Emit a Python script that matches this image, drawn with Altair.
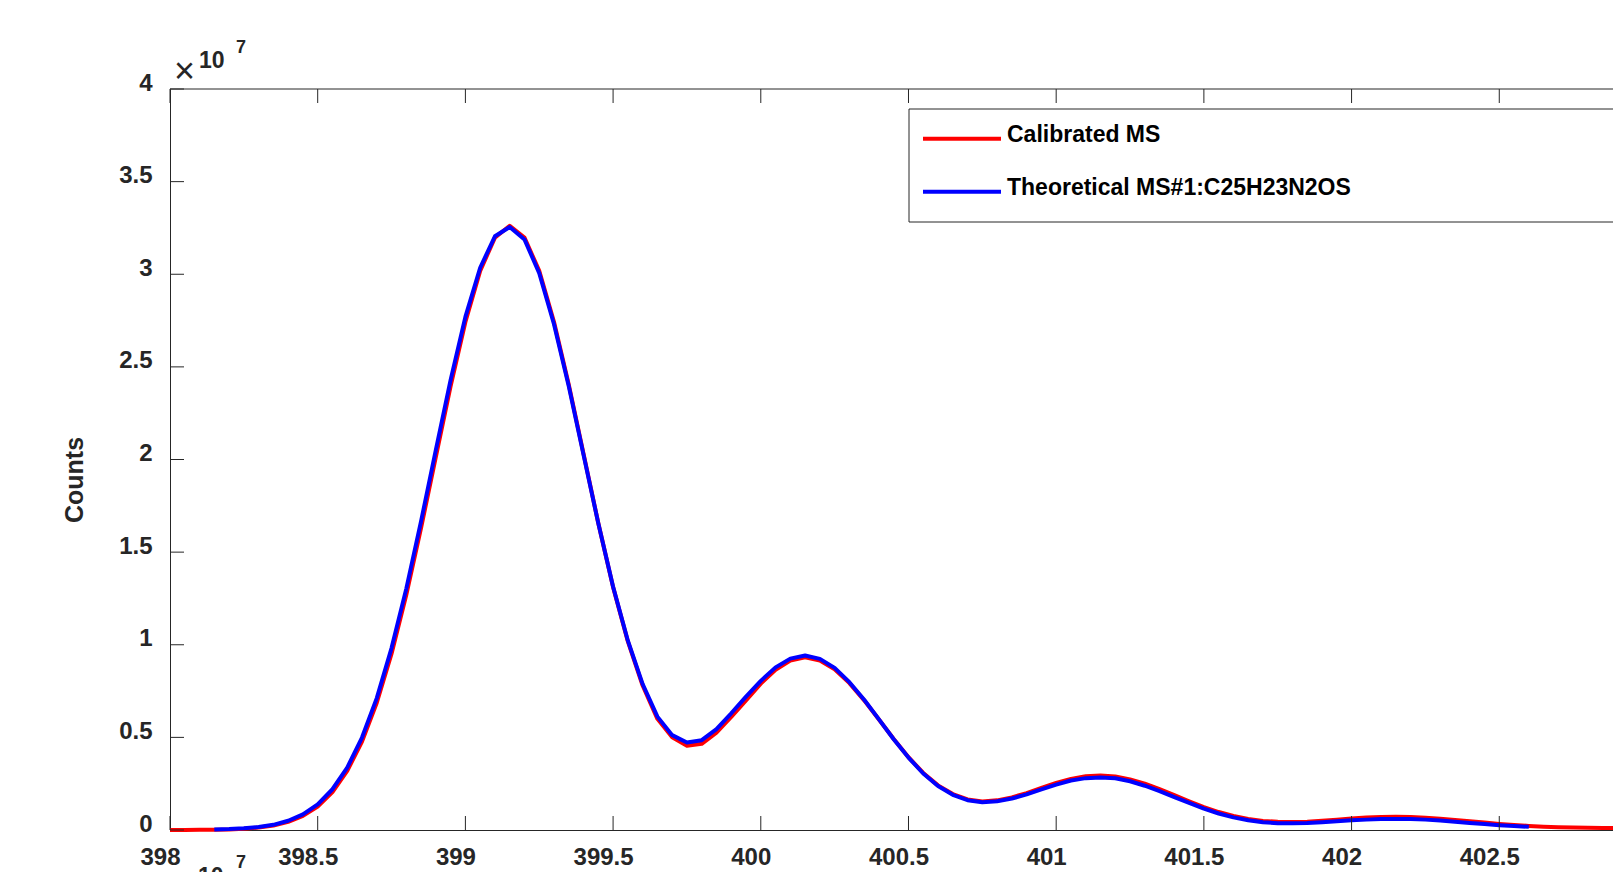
import altair as alt
import pandas as pd

# ---- data (counts in units of 1e7) ----
mz = [398.00, 398.05, 398.10, 398.15, 398.20, 398.25, 398.30, 398.35, 398.40, 398.45,
      398.50, 398.55, 398.60, 398.65, 398.70, 398.75, 398.80, 398.85, 398.90, 398.95,
      399.00, 399.05, 399.10, 399.15, 399.20, 399.25, 399.30, 399.35, 399.40, 399.45,
      399.50, 399.55, 399.60, 399.65, 399.70, 399.75, 399.80, 399.85, 399.90, 399.95,
      400.00, 400.05, 400.10, 400.15, 400.20, 400.25, 400.30, 400.35, 400.40, 400.45,
      400.50, 400.55, 400.60, 400.65, 400.70, 400.75, 400.80, 400.85, 400.90, 400.95,
      401.00, 401.05, 401.10, 401.15, 401.20, 401.25, 401.30, 401.35, 401.40, 401.45,
      401.50, 401.55, 401.60, 401.65, 401.70, 401.75, 401.80, 401.85, 401.90, 401.95,
      402.00, 402.05, 402.10, 402.15, 402.20, 402.25, 402.30, 402.35, 402.40, 402.45,
      402.50, 402.55, 402.60, 402.65, 402.70, 402.75, 402.80, 402.85, 402.90]

calibrated = [0.000, 0.000, 0.001, 0.002, 0.003, 0.007, 0.013, 0.024, 0.044, 0.076,
              0.127, 0.205, 0.319, 0.477, 0.687, 0.952, 1.270, 1.631, 2.015, 2.396,
              2.742, 3.018, 3.198, 3.262, 3.198, 3.018, 2.742, 2.404, 2.030, 1.656,
              1.311, 1.018, 0.780, 0.600, 0.500, 0.455, 0.465, 0.525, 0.610, 0.700,
              0.790, 0.865, 0.915, 0.932, 0.915, 0.868, 0.793, 0.700, 0.596, 0.491,
              0.393, 0.308, 0.241, 0.194, 0.165, 0.154, 0.160, 0.176, 0.199, 0.227,
              0.254, 0.276, 0.290, 0.294, 0.289, 0.273, 0.250, 0.220, 0.188, 0.155,
              0.124, 0.097, 0.076, 0.060, 0.049, 0.044, 0.043, 0.045, 0.050, 0.056,
              0.062, 0.067, 0.070, 0.071, 0.070, 0.066, 0.061, 0.054, 0.047, 0.040,
              0.033, 0.027, 0.022, 0.018, 0.015, 0.013, 0.012, 0.011, 0.011]

theoretical_mz = mz[3:93]
theoretical = [0.003, 0.005, 0.009, 0.016, 0.028, 0.050, 0.084,
               0.138, 0.220, 0.337, 0.499, 0.712, 0.982, 1.303, 1.667, 2.052, 2.430,
               2.770, 3.035, 3.205, 3.255, 3.188, 3.006, 2.730, 2.395, 2.025, 1.655,
               1.313, 1.022, 0.788, 0.612, 0.512, 0.472, 0.485, 0.545, 0.630, 0.720,
               0.805, 0.878, 0.925, 0.942, 0.924, 0.875, 0.798, 0.703, 0.597, 0.490,
               0.391, 0.305, 0.237, 0.190, 0.161, 0.150, 0.155, 0.170, 0.192, 0.219,
               0.245, 0.267, 0.280, 0.284, 0.279, 0.263, 0.239, 0.210, 0.178, 0.146,
               0.115, 0.089, 0.068, 0.053, 0.042, 0.037, 0.036, 0.038, 0.042, 0.047,
               0.052, 0.056, 0.059, 0.060, 0.059, 0.056, 0.051, 0.045, 0.038, 0.032,
               0.026, 0.021, 0.017]

series_names = ["Calibrated MS", "Theoretical MS#1:C25H23N2OS"]
series_colors = ["#ff0000", "#0000ff"]
x_ticks = [398, 398.5, 399, 399.5, 400, 400.5, 401, 401.5, 402, 402.5]
y_ticks = [0, 0.5, 1, 1.5, 2, 2.5, 3, 3.5, 4]
y_title = "Counts"
exp_base = "10"
exp_power = "7"

# ---- layout ----
W, H = 1443, 741
FONT = "Liberation Sans"
AX = "#262626"
TL = 14

df = pd.concat([
    pd.DataFrame({"mz": mz, "value": calibrated, "series": series_names[0]}),
    pd.DataFrame({"mz": theoretical_mz, "value": theoretical, "series": series_names[1]}),
])

xscale = alt.Scale(domain=[398, 402.885], nice=False, zero=False)
yscale = alt.Scale(domain=[0, 4], nice=False, zero=False)
color_scale = alt.Scale(domain=series_names, range=series_colors)

xaxis = alt.Axis(values=x_ticks, format="~g", title=None, grid=False, ticks=False, tickSize=0,
                 labelFont=FONT, labelFontSize=24, labelFontWeight="bold", labelColor=AX,
                 labelPadding=34, labelBaseline="alphabetic", labelOffset=-10,
                 labelFlush=False, labelOverlap=False, domainColor=AX, domainWidth=1)
yaxis = alt.Axis(values=y_ticks, format="~g", title=None, grid=False, ticks=False, tickSize=0,
                 labelFont=FONT, labelFontSize=24, labelFontWeight="bold", labelColor=AX,
                 labelPadding=18, labelBaseline="middle", labelAlign="right", labelOffset=-6,
                 labelFlush=False, labelOverlap=False, domainColor=AX, domainWidth=1)

def X():
    return alt.X("mz:Q", scale=xscale, axis=xaxis)

def Y():
    return alt.Y("value:Q", scale=yscale, axis=yaxis)

lines = []
for name in series_names:
    lines.append(
        alt.Chart(df[df.series == name]).mark_line(strokeWidth=4, strokeJoin="round", strokeCap="butt")
        .encode(x=X(), y=Y(), color=alt.Color("series:N", scale=color_scale, legend=None))
    )

xt = pd.DataFrame({"mz": x_ticks})
yt = pd.DataFrame({"value": y_ticks})
one = pd.DataFrame({"a": [0]})

bottom_ticks = alt.Chart(xt).mark_rule(color=AX, strokeWidth=1).encode(
    x=X(), y=alt.value(H), y2=alt.value(H - TL))
top_ticks = alt.Chart(xt).mark_rule(color=AX, strokeWidth=1).encode(
    x=X(), y=alt.value(0), y2=alt.value(TL))
left_ticks = alt.Chart(yt).mark_rule(color=AX, strokeWidth=1).encode(
    y=Y(), x=alt.value(0), x2=alt.value(TL))
top_border = alt.Chart(one).mark_rule(color=AX, strokeWidth=1).encode(
    x=alt.value(0), x2=alt.value(W), y=alt.value(0))

# legend box
legend_box = alt.Chart(one).mark_rect(fill="white", stroke=AX, strokeWidth=1).encode(
    x=alt.value(739), x2=alt.value(W + 40), y=alt.value(20), y2=alt.value(133))
legend_layers = []
for i, (name, col) in enumerate(zip(series_names, series_colors)):
    ly = 49.7 + i * 53.0
    legend_layers.append(alt.Chart(one).mark_rule(color=col, strokeWidth=4).encode(
        x=alt.value(753), x2=alt.value(831), y=alt.value(ly)))
    legend_layers.append(alt.Chart(one).mark_text(
        text=name, font=FONT, fontSize=23, fontWeight="bold", color="#000000",
        align="left", baseline="middle").encode(x=alt.value(837), y=alt.value(ly - 3.8)))

# exponent annotations and y title
def txt(text, x, y, size=24, weight="bold", align="left", baseline="alphabetic", angle=0):
    return alt.Chart(one).mark_text(text=text, font=FONT, fontSize=size, fontWeight=weight,
                                    color=AX, align=align, baseline=baseline, angle=angle
                                    ).encode(x=alt.value(x), y=alt.value(y))

annots = [
    txt("\u00d7", 14.5, -17.5, size=36, weight="normal", align="center", baseline="middle"),
    txt(exp_base, 29, -21, size=23),
    txt(exp_power, 66, -36, size=18),
    txt(exp_base, 28, 795, size=23),
    txt(exp_power, 66, 779, size=18),
    txt(y_title, -87, 391, size=25, align="center", angle=270),
]

chart = alt.layer(
    legend_box, *legend_layers, *lines, bottom_ticks, top_ticks, left_ticks, top_border, *annots
).properties(
    width=W, height=H,
    autosize=alt.AutoSizeParams(type="none"),
    padding={"left": 170, "top": 89, "right": 0, "bottom": 42},
    background="white",
).configure_view(stroke=None)

chart.save("out.html", embed_options={"renderer": "svg", "actions": False})
